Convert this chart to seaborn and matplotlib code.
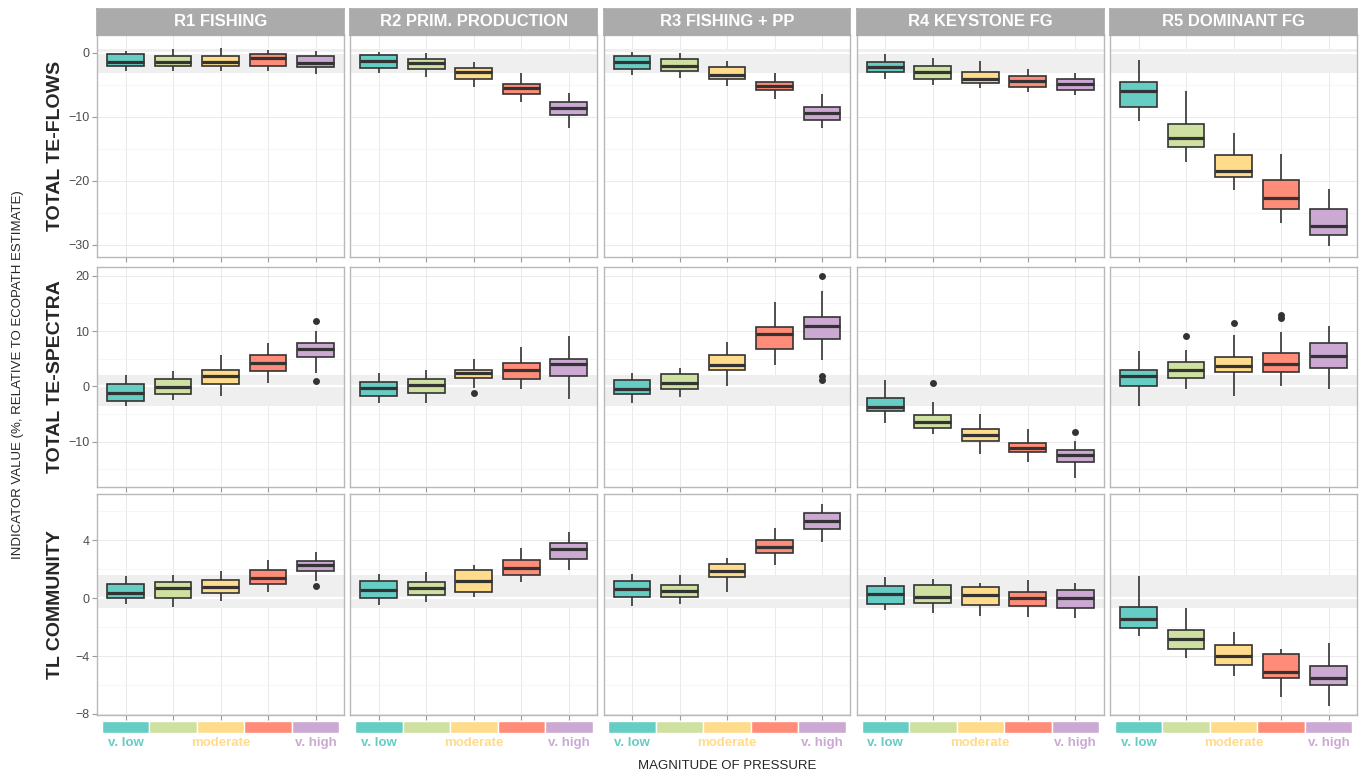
import pandas as pd
import matplotlib.pyplot as plt
import matplotlib.transforms as mtransforms
from matplotlib.ticker import MultipleLocator
import seaborn as sns

# categories
levels = ["v. low", "low", "moderate", "high", "v. high"]
palette = ["#66CDC4", "#CFE1A1", "#FFDB8C", "#FF8C78", "#CBA9D3"]
scenarios = ["R1 FISHING", "R2 PRIM. PRODUCTION", "R3 FISHING + PP",
             "R4 KEYSTONE FG", "R5 DOMINANT FG"]
indicators = ["TOTAL TE-FLOWS", "TOTAL TE-SPECTRA", "TL COMMUNITY"]

# one box per level: [lower whisker, q1, median, q3, upper whisker]
flows_r1 = [[-2.9, -2.0, -1.35, -0.2, 0.35], [-2.9, -2.0, -1.4, -0.55, 0.55],
            [-2.8, -2.0, -1.35, -0.45, 0.7], [-2.9, -2.0, -0.85, -0.15, 0.45],
            [-3.3, -2.2, -1.5, -0.5, 0.25]]
flows_r2 = [[-3.1, -2.35, -1.25, -0.4, 0.2], [-3.7, -2.55, -1.6, -0.9, -0.05],
            [-5.25, -4.05, -3.05, -2.3, -1.45], [-7.6, -6.5, -5.55, -4.8, -3.2],
            [-11.7, -9.75, -8.6, -7.65, -6.3]]
flows_r3 = [[-3.4, -2.5, -1.45, -0.5, 0.2], [-3.85, -2.85, -2.0, -1.0, -0.05],
            [-5.1, -4.05, -3.45, -2.2, -1.3], [-7.25, -5.75, -5.1, -4.5, -3.15],
            [-11.7, -10.45, -9.4, -8.5, -6.5]]
flows_r4 = [[-4.0, -2.95, -2.2, -1.35, -0.1], [-5.05, -4.05, -3.0, -2.0, -0.85],
            [-5.45, -4.7, -4.1, -2.95, -1.3], [-6.15, -5.4, -4.45, -3.55, -2.45],
            [-6.6, -5.8, -4.9, -4.05, -3.15]]
flows_r5 = [[-10.7, -8.4, -5.9, -4.55, -1.15], [-17.0, -14.7, -13.35, -11.1, -5.95],
            [-21.4, -19.45, -18.4, -16.0, -12.45], [-26.65, -24.4, -22.6, -19.85, -15.8],
            [-30.2, -28.4, -27.05, -24.45, -21.3]]

spectra_r1 = [[-3.55, -2.6, -1.15, 0.45, 2.05], [-2.55, -1.45, -0.15, 1.25, 2.7],
              [-1.75, 0.4, 1.9, 2.9, 5.65], [0.7, 2.7, 4.2, 5.7, 7.9],
              [2.5, 5.25, 6.85, 7.85, 10.0]]
spectra_r2 = [[-2.95, -1.7, -0.35, 0.8, 2.35], [-2.95, -1.25, 0.2, 1.3, 2.9],
              [-0.25, 1.45, 2.35, 2.95, 4.9], [-0.5, 1.35, 2.95, 4.15, 7.1],
              [-2.25, 1.9, 4.05, 4.95, 9.15]]
spectra_r3 = [[-2.95, -1.45, -0.45, 1.1, 2.35], [-1.9, -0.55, 0.7, 2.3, 3.3],
              [0.1, 2.9, 3.9, 5.6, 8.05], [3.95, 6.85, 9.5, 10.8, 15.2],
              [4.8, 8.55, 10.95, 12.6, 17.3]]
spectra_r4 = [[-6.7, -4.45, -3.7, -2.15, 1.1], [-8.7, -7.5, -6.4, -5.25, -2.85],
              [-12.3, -9.95, -8.8, -7.65, -5.0], [-13.65, -11.95, -11.1, -10.2, -7.65],
              [-16.5, -13.7, -12.5, -11.45, -9.9]]
spectra_r5 = [[-3.55, 0.0, 1.9, 3.0, 6.4], [-0.55, 1.5, 3.0, 4.35, 6.5],
              [-1.7, 2.55, 3.75, 5.4, 9.3], [0.1, 2.6, 4.1, 6.1, 9.85],
              [-0.55, 3.25, 5.55, 7.85, 10.95]]

tl_r1 = [[-0.42, 0.02, 0.39, 0.97, 1.54], [-0.62, 0.0, 0.73, 1.15, 1.61],
         [-0.19, 0.35, 0.8, 1.29, 1.87], [0.44, 1.01, 1.38, 1.94, 2.65],
         [1.18, 1.87, 2.3, 2.58, 3.22]]
tl_r2 = [[-0.46, 0.04, 0.55, 1.2, 1.66], [-0.28, 0.25, 0.69, 1.11, 1.8],
         [0.07, 0.46, 1.22, 1.94, 2.3], [1.15, 1.61, 2.1, 2.67, 3.48],
         [1.94, 2.72, 3.39, 3.83, 4.59]]
tl_r3 = [[-0.51, 0.11, 0.66, 1.18, 1.66], [-0.37, 0.09, 0.51, 0.94, 1.59],
         [0.42, 1.45, 1.89, 2.35, 2.79], [2.3, 3.11, 3.57, 3.99, 4.84],
         [3.88, 4.8, 5.3, 5.86, 6.53]]
tl_r4 = [[-0.81, -0.42, 0.3, 0.85, 1.47], [-1.0, -0.33, 0.09, 0.92, 1.36],
         [-1.2, -0.44, 0.23, 0.76, 1.08], [-1.31, -0.53, 0.04, 0.42, 1.25],
         [-1.38, -0.65, 0.04, 0.6, 1.08]]
tl_r5 = [[-2.61, -2.03, -1.43, -0.58, 1.52], [-4.15, -3.51, -2.82, -2.19, -0.69],
         [-5.36, -4.64, -4.01, -3.23, -2.33], [-6.83, -5.49, -5.08, -3.88, -3.51],
         [-7.43, -5.98, -5.54, -4.7, -3.11]]

# outliers: (indicator, scenario, level, value)
outlier_points = [
    ("TOTAL TE-SPECTRA", "R1 FISHING", "v. high", 11.9),
    ("TOTAL TE-SPECTRA", "R1 FISHING", "v. high", 1.0),
    ("TOTAL TE-SPECTRA", "R2 PRIM. PRODUCTION", "moderate", -1.2),
    ("TOTAL TE-SPECTRA", "R3 FISHING + PP", "v. high", 19.95),
    ("TOTAL TE-SPECTRA", "R3 FISHING + PP", "v. high", 1.9),
    ("TOTAL TE-SPECTRA", "R3 FISHING + PP", "v. high", 1.2),
    ("TOTAL TE-SPECTRA", "R4 KEYSTONE FG", "low", 0.6),
    ("TOTAL TE-SPECTRA", "R4 KEYSTONE FG", "v. high", -8.2),
    ("TOTAL TE-SPECTRA", "R5 DOMINANT FG", "low", 9.2),
    ("TOTAL TE-SPECTRA", "R5 DOMINANT FG", "moderate", 11.4),
    ("TOTAL TE-SPECTRA", "R5 DOMINANT FG", "high", 13.0),
    ("TOTAL TE-SPECTRA", "R5 DOMINANT FG", "high", 12.3),
    ("TL COMMUNITY", "R1 FISHING", "v. high", 0.83),
]

# grey reference band behind zero, per indicator
band_lo = [-3.1, -3.55, -0.65]
band_hi = [0.6, 2.05, 1.6]

panel_data = {
    "TOTAL TE-FLOWS": [flows_r1, flows_r2, flows_r3, flows_r4, flows_r5],
    "TOTAL TE-SPECTRA": [spectra_r1, spectra_r2, spectra_r3, spectra_r4, spectra_r5],
    "TL COMMUNITY": [tl_r1, tl_r2, tl_r3, tl_r4, tl_r5],
}

rows = []
for ind in indicators:
    for scen, boxes in zip(scenarios, panel_data[ind]):
        for lvl, vals in zip(levels, boxes):
            for v in vals:
                rows.append((ind, scen, lvl, v))
df = pd.DataFrame(rows, columns=["indicator", "scenario", "level", "value"])
out_df = pd.DataFrame(outlier_points, columns=["indicator", "scenario", "level", "value"])

sns.set_theme(style="white")
plt.rcParams['font.family'] = ['Liberation Sans', 'DejaVu Sans']

W, H = 1366, 776
fig = plt.figure(figsize=(W / 100, H / 100), dpi=100)

pw = 247
gap = 6.25
lefts = [97 + j * (pw + gap) for j in range(5)]
tops = [35, 267, 494]
heights = [222, 220, 221]
ylims = [(-31.9, 2.8), (-18.2, 21.6), (-8.07, 7.2)]
steps = [10, 10, 4]


def fig_rect(x, y, w, h):
    return [x / W, 1 - (y + h) / H, w / W, h / H]


for i, ind in enumerate(indicators):
    for j, scen in enumerate(scenarios):
        ax = fig.add_axes(fig_rect(lefts[j], tops[i], pw, heights[i]))
        ax.axhspan(band_lo[i], band_hi[i], color='#EFEFEF', lw=0, zorder=0.7)
        ax.axhline(0, color='white', lw=1.6, zorder=0.8)

        sub = df[(df.indicator == ind) & (df.scenario == scen)]
        sns.boxplot(data=sub, x='level', y='value', hue='level', order=levels,
                    hue_order=levels, palette=palette, saturation=1, width=0.77,
                    whis=(0, 100), showfliers=False, showcaps=False,
                    linecolor='#333333', linewidth=1.2,
                    medianprops={'linewidth': 2.3}, legend=False, ax=ax)
        out = out_df[(out_df.indicator == ind) & (out_df.scenario == scen)]
        if len(out):
            sns.stripplot(data=out, x='level', y='value', order=levels, jitter=False,
                          color='#333333', size=5, ax=ax, zorder=3)

        ax.set_xlim(-0.6, 4.6)
        ax.set_ylim(ylims[i])
        ax.yaxis.set_major_locator(MultipleLocator(steps[i]))
        ax.yaxis.set_minor_locator(MultipleLocator(steps[i] / 2))
        ax.grid(True, which='major', color='#E6E6E6', lw=0.6)
        ax.grid(True, which='minor', axis='y', color='#F3F3F3', lw=0.5)
        ax.set_axisbelow(True)
        ax.set_xlabel('')
        ax.set_ylabel('')
        ax.tick_params(axis='x', which='major', bottom=True, length=3.5, width=0.8,
                       color='#9A9A9A', labelbottom=False)
        ax.tick_params(axis='y', which='minor', left=False, length=0)
        if j == 0:
            ax.tick_params(axis='y', which='major', left=True, length=3.5, width=0.8,
                           color='#9A9A9A', labelsize=9, labelcolor='#4D4D4D', pad=2)
        else:
            ax.tick_params(axis='y', which='major', left=False, labelleft=False)
        for s in ax.spines.values():
            s.set_color('#B8B8B8')
            s.set_linewidth(1.0)

        if i == 0:
            sax = fig.add_axes(fig_rect(lefts[j], 9, pw, 26))
            sax.set_facecolor('#ABABAB')
            sax.set_xticks([])
            sax.set_yticks([])
            for s in sax.spines.values():
                s.set_color('#ABABAB')
            sax.text(0.5, 0.5, scen, color='white', fontweight='bold', fontsize=12,
                     ha='center', va='center', transform=sax.transAxes)

        if i == len(indicators) - 1:
            bax = fig.add_axes(fig_rect(lefts[j], 721, pw, 12))
            sns.barplot(x=levels, y=[1] * len(levels), hue=levels, palette=palette,
                        saturation=1, width=1, edgecolor='white', linewidth=1,
                        legend=False, ax=bax)
            bax.set_xlim(-0.6, 4.6)
            bax.set_ylim(0, 1)
            bax.axis('off')
            trans = mtransforms.blended_transform_factory(bax.transData, bax.transAxes)
            for k in (0, 2, 4):
                bax.text(k, -0.85, levels[k], color=palette[k], fontweight='bold',
                         fontsize=9.5, ha='center', va='center', transform=trans)

    fig.text(56 / W, 1 - (tops[i] + heights[i] / 2) / H, ind, rotation=90,
             fontsize=14, fontweight='bold', ha='center', va='center')

fig.text(18 / W, 1 - 375 / H, "INDICATOR VALUE (%, RELATIVE TO ECOPATH ESTIMATE)",
         rotation=90, fontsize=9.5, ha='center', va='center')
fig.text(727 / W, 1 - 766 / H, "MAGNITUDE OF PRESSURE", fontsize=9.5,
         ha='center', va='center')

fig.savefig('out.png', dpi=100)
